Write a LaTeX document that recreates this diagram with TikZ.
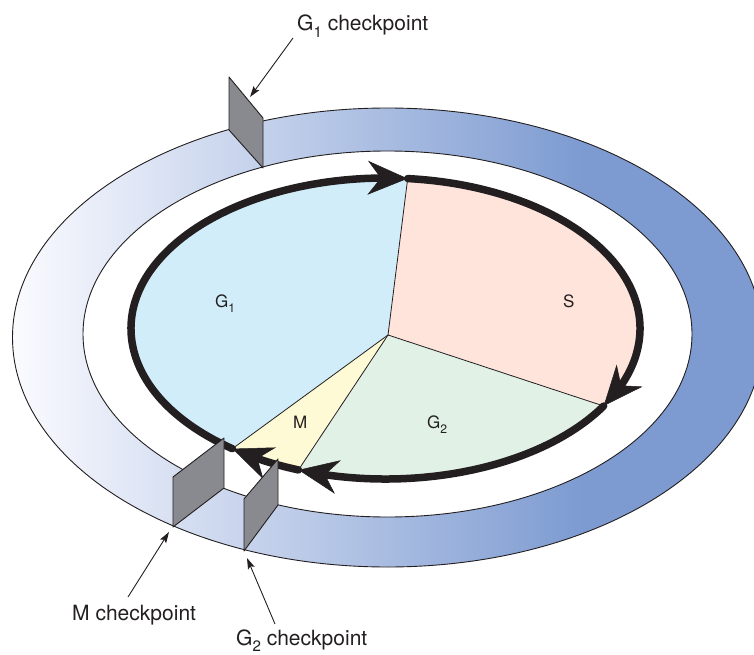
\documentclass[tikz,border=0pt]{standalone}
\usepackage{fontspec}
\setmainfont{TeX Gyre Heros}
\usetikzlibrary{arrows.meta,bending}
\definecolor{bandblue}{RGB}{125,155,209}
\definecolor{bandwhite}{RGB}{251,251,255}
\definecolor{gonefill}{RGB}{210,237,250}
\definecolor{sfill}{RGB}{254,228,218}
\definecolor{gtwofill}{RGB}{225,241,230}
\definecolor{mfill}{RGB}{254,250,213}
\definecolor{plategray}{RGB}{137,138,143}
\definecolor{ink}{RGB}{35,31,32}
\pgfdeclarehorizontalshading{bandshade}{100bp}{color(0bp)=(bandwhite); color(25bp)=(bandwhite); color(63bp)=(bandblue); color(100bp)=(bandblue)}
\newcommand\mysub[1]{\raisebox{-0.3em}{\scalebox{0.72}{#1}}}
\begin{document}
\begin{tikzpicture}[x=1pt,y=1pt,
  outline/.style={draw=ink, line width=0.9pt},
  divline/.style={draw=ink, line width=0.8pt},
  cycarrow/.style={draw=ink, line width=7.5pt, line cap=round,
    -{Stealth[length=40pt, width=34pt, inset=13pt, line width=0.5pt, flex]}},
  plate/.style={fill=plategray, draw=ink, line width=0.9pt, line join=round},
  leader/.style={draw=ink, line width=0.9pt, -{Stealth[length=11pt, width=7pt, inset=2pt]}},
  biglabel/.style={inner sep=0pt, anchor=base west, font=\fontsize{21}{25}\selectfont, text=ink},
  phaselabel/.style={inner sep=0pt, anchor=base west, font=\fontsize{17}{20}\selectfont, text=ink},
  elarc/.style={x radius=254.5pt, y radius=150.5pt}]
\useasboundingbox (0,0) rectangle (754,-655);

% ring band
\shade[shading=bandshade, even odd rule]
  (387.5,-337.5) ellipse[x radius=375pt, y radius=229.5pt]
  (387.5,-334) ellipse[x radius=304.5pt, y radius=183pt];
\draw[outline] (387.5,-337.5) ellipse[x radius=375pt, y radius=229.5pt];
\draw[outline] (387.5,-334) ellipse[x radius=304.5pt, y radius=183pt];

% pie geometry
\coordinate (P) at (388,-335);
\coordinate (bmg) at ({385.5+254.5*cos(-127)},{-328.5+150.5*sin(-127)});
\coordinate (bgs) at ({385.5+254.5*cos(85)},{-328.5+150.5*sin(85)});
\coordinate (bsg) at ({385.5+254.5*cos(-31)},{-328.5+150.5*sin(-31)});
\coordinate (bgm) at ({385.5+254.5*cos(-110)},{-328.5+150.5*sin(-110)});

\fill[gonefill] (P) -- (bmg) arc[start angle=-127, end angle=-275, elarc] -- cycle;
\fill[sfill] (P) -- (bgs) arc[start angle=85, end angle=-31, elarc] -- cycle;
\fill[gtwofill] (P) -- (bsg) arc[start angle=-31, end angle=-110, elarc] -- cycle;
\fill[mfill] (P) -- (bgm) arc[start angle=-110, end angle=-127, elarc] -- cycle;

\draw[divline] (P) -- (bmg);
\draw[divline] (P) -- (bgs);
\draw[divline] (P) -- (bsg);
\draw[divline] (P) -- (bgm);

% cycle arrows
\draw[cycarrow] (bmg) arc[start angle=-127, end angle=-275, elarc];
\draw[cycarrow] (bgs) arc[start angle=85, end angle=-31, elarc];
\draw[cycarrow] (bsg) arc[start angle=-31, end angle=-110, elarc];
\draw[cycarrow] (bgm) arc[start angle=-110, end angle=-127, elarc];

% phase labels
\node[phaselabel] (lgone) at (215,-307) {G\mysub{1}};
\node[phaselabel] (ls) at (563,-307) {S};
\node[phaselabel] (lm) at (293,-428) {M};
\node[phaselabel] (lgtwo) at (427,-428) {G\mysub{2}};

% checkpoint plates
\draw[plate] (229,-77) -- (229,-130) -- (263,-168) -- (263,-118) -- cycle;
\draw[plate] (173,-477) -- (173,-527) -- (224,-488) -- (224,-438) -- cycle;
\draw[plate] (244,-499) -- (244,-551) -- (278,-505) -- (278,-459) -- cycle;

% checkpoint labels and leaders
\node[biglabel] (cgone) at (297,-31) {G\mysub{1} checkpoint};
\node[biglabel] (cm) at (72,-620) {M checkpoint};
\node[biglabel] (cgtwo) at (236,-645) {G\mysub{2} checkpoint};
\coordinate (cgonefrom) at (293,-38);
\coordinate (cgoneto) at (250,-97);
\coordinate (cmfrom) at (128,-597);
\coordinate (cmto) at (169,-532);
\coordinate (cgtwofrom) at (275,-624);
\coordinate (cgtwoto) at (247,-558);
\draw[leader] (cgonefrom) -- (cgoneto);
\draw[leader] (cmfrom) -- (cmto);
\draw[leader] (cgtwofrom) -- (cgtwoto);
\end{tikzpicture}
\end{document}
